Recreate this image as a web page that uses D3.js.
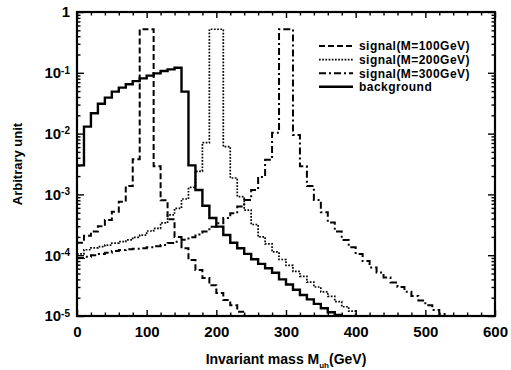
<!DOCTYPE html>
<html>
<head>
<meta charset="utf-8">
<script src="https://cdn.jsdelivr.net/npm/d3@7"></script>
<style>
    body { margin: 0; background: #fff; }
    svg { font-family: "Liberation Sans", Arial, sans-serif; font-weight: bold; }
</style>
</head>
<body>
<svg id="chart" width="511" height="370"></svg>
<script>
// histogram bins are 10 GeV wide, starting at 0
var binWidth = 10;

var background = [0.003, 0.013, 0.0216, 0.031, 0.039, 0.049, 0.057, 0.065, 0.073, 0.081,
    0.090, 0.098, 0.107, 0.114, 0.121, 0.049, 0.003, 0.00118, 0.00065, 0.00041,
    2.95e-4, 2.15e-4, 1.6e-4, 1.3e-4, 1.05e-4, 8.6e-5, 7.2e-5, 6.1e-5, 5.15e-5, 4.0e-5,
    3.3e-5, 2.7e-5, 2.22e-5, 1.88e-5, 1.58e-5, 1.34e-5, 1.15e-5, 1.04e-5];

var signal100 = [1.6e-4, 2.08e-4, 2.45e-4, 3.0e-4, 3.8e-4, 5.2e-4, 7.6e-4, 1.37e-3, 3.8e-3, 0.52,
    0.52, 2.9e-3, 8.0e-4, 3.9e-4, 2.0e-4, 1.3e-4, 8.3e-5, 5.7e-5, 4.2e-5, 3.2e-5,
    2.4e-5, 1.83e-5, 1.5e-5, 1.18e-5];

var signal200 = [1.05e-4, 1.23e-4, 1.32e-4, 1.38e-4, 1.47e-4, 1.58e-4, 1.67e-4, 1.78e-4, 1.97e-4, 2.14e-4,
    2.5e-4, 2.76e-4, 3.4e-4, 4.6e-4, 5.9e-4, 8.4e-4, 1.3e-3, 2.4e-3, 7.1e-3, 0.52,
    0.52, 6.1e-3, 1.86e-3, 9.2e-4, 5.5e-4, 3.2e-4, 2.0e-4, 1.53e-4, 1.13e-4, 8.5e-5,
    6.8e-5, 5.4e-5, 4.5e-5, 3.6e-5, 3.0e-5, 2.5e-5, 2.1e-5, 1.72e-5, 1.42e-5, 1.2e-5];

var signal300 = [9.0e-5, 9.4e-5, 1.0e-4, 1.05e-4, 1.1e-4, 1.17e-4, 1.22e-4, 1.25e-4, 1.28e-4, 1.3e-4,
    1.35e-4, 1.41e-4, 1.47e-4, 1.58e-4, 1.67e-4, 1.8e-4, 1.97e-4, 2.2e-4, 2.45e-4, 2.95e-4,
    3.35e-4, 4.1e-4, 4.9e-4, 6.3e-4, 8.1e-4, 1.18e-3, 1.94e-3, 3.7e-3, 0.0103, 0.52,
    0.52, 9.5e-3, 2.9e-3, 1.37e-3, 8.1e-4, 5.1e-4, 3.45e-4, 2.45e-4, 1.78e-4, 1.35e-4,
    1.05e-4, 8.0e-5, 6.3e-5, 5.2e-5, 4.3e-5, 3.55e-5, 3.0e-5, 2.5e-5, 2.14e-5, 1.8e-5,
    1.5e-5, 1.26e-5, 1.08e-5];

var seriesNames = ["signal(M=100GeV)", "signal(M=200GeV)", "signal(M=300GeV)", "background"];
var xTicks = [0, 100, 200, 300, 400, 500, 600];
var yDecades = [1, 1e-1, 1e-2, 1e-3, 1e-4, 1e-5];

var svg = d3.select("#chart");
var margin = {top: 12, right: 16, bottom: 54, left: 77};
var width = 511 - margin.left - margin.right;
var height = 370 - margin.top - margin.bottom;

var g = svg.append("g")
    .attr("transform", "translate(" + margin.left + "," + margin.top + ")");

var x = d3.scaleLinear().domain([0, 600]).range([0, width]);
var y = d3.scaleLog().domain([1e-5, 1]).range([height, 0]).clamp(true);

// minor tick values
var xMinor = d3.range(0, 601, 20).filter(function(d) { return d % 100 != 0; });
var yMinor = [];
yDecades.slice(1).forEach(function(d) {
    for (var k = 2; k <= 9; k++) yMinor.push(d * k);
});

// styles per series, same order as seriesNames
var styles = [
    {dash: "6,3", w: 2},
    {dash: "1.7,1.5", w: 1.7},
    {dash: "7,3,2,3", w: 2},
    {dash: null, w: 2.4}
];
var allSeries = [signal100, signal200, signal300, background];

function stepPoints(values) {
    var pts = values.map(function(v, i) { return [i * binWidth, v]; });
    var last = values.length * binWidth;
    pts.push([last, values[values.length - 1]]);
    pts.push([last, 1e-5]);
    return pts;
}

var line = d3.line()
    .x(function(d) { return x(d[0]); })
    .y(function(d) { return y(d[1]); })
    .curve(d3.curveStepAfter);

g.append("defs").append("clipPath").attr("id", "clip")
    .append("rect").attr("width", width).attr("height", height);

var plot = g.append("g").attr("clip-path", "url(#clip)");

allSeries.forEach(function(s, i) {
    plot.append("path")
        .datum(stepPoints(s))
        .attr("d", line)
        .attr("fill", "none")
        .attr("stroke", "#000")
        .attr("stroke-width", styles[i].w)
        .attr("stroke-dasharray", styles[i].dash)
        .attr("stroke-linejoin", "miter");
});

// axes, ticks pointing inward
function styleAxis(sel) {
    sel.selectAll(".tick line").attr("stroke", "#000").attr("stroke-width", 1.4);
    sel.select(".domain").remove();
}

var xAxis = g.append("g").attr("transform", "translate(0," + height + ")")
    .call(d3.axisBottom(x).tickValues(xTicks).tickSize(-6).tickPadding(10).tickFormat(d3.format("d")));
xAxis.selectAll("text").attr("font-size", 15).attr("font-weight", "bold").attr("font-family", null);
styleAxis(xAxis);

g.append("g").attr("transform", "translate(0," + height + ")")
    .call(d3.axisBottom(x).tickValues(xMinor).tickSize(-3.5).tickFormat(""))
    .call(styleAxis);

g.append("g")
    .call(d3.axisTop(x).tickValues(xTicks).tickSize(-6).tickFormat(""))
    .call(styleAxis);
g.append("g")
    .call(d3.axisTop(x).tickValues(xMinor).tickSize(-3.5).tickFormat(""))
    .call(styleAxis);

var yAxis = g.append("g")
    .call(d3.axisLeft(y).tickValues(yDecades).tickSize(-7).tickPadding(7).tickFormat(""));
styleAxis(yAxis);
yAxis.selectAll(".tick text")
    .attr("font-size", 15)
    .attr("font-weight", "bold")
    .attr("font-family", null)
    .each(function(d) {
        var t = d3.select(this);
        if (d == 1) {
            t.text("1");
        } else {
            t.append("tspan").text("10");
            t.append("tspan").attr("font-size", 10).attr("dy", "-0.45em")
                .text(String(Math.round(Math.log10(d))));
        }
    });

g.append("g")
    .call(d3.axisLeft(y).tickValues(yMinor).tickSize(-3.5).tickFormat(""))
    .call(styleAxis);
g.append("g").attr("transform", "translate(" + width + ",0)")
    .call(d3.axisRight(y).tickValues(yDecades).tickSize(-7).tickFormat(""))
    .call(styleAxis);
g.append("g").attr("transform", "translate(" + width + ",0)")
    .call(d3.axisRight(y).tickValues(yMinor).tickSize(-3.5).tickFormat(""))
    .call(styleAxis);

// frame
g.append("rect")
    .attr("width", width)
    .attr("height", height)
    .attr("fill", "none")
    .attr("stroke", "#000")
    .attr("stroke-width", 2.2);

// axis titles
var xTitle = svg.append("text")
    .attr("x", margin.left + width / 2)
    .attr("y", 364)
    .attr("text-anchor", "middle")
    .attr("font-size", 14);
xTitle.append("tspan").text("Invariant mass M");
xTitle.append("tspan").attr("font-size", 8).attr("dy", 4).text("uh");
xTitle.append("tspan").attr("dy", -4).text("(GeV)");

svg.append("text")
    .attr("transform", "translate(22," + (margin.top + height / 2) + ") rotate(-90)")
    .attr("text-anchor", "middle")
    .attr("font-size", 13)
    .text("Arbitrary unit");

// legend
var legend = svg.append("g").attr("transform", "translate(319,46)");
seriesNames.forEach(function(name, i) {
    var row = legend.append("g").attr("transform", "translate(0," + (i * 13.6) + ")");
    row.append("line")
        .attr("x1", 0).attr("x2", 34)
        .attr("stroke", "#000")
        .attr("stroke-width", styles[i].w)
        .attr("stroke-dasharray", styles[i].dash);
    row.append("text")
        .attr("x", 40)
        .attr("y", 4.3)
        .attr("font-size", 12)
        .attr("letter-spacing", 0.45)
        .text(name);
});
</script>
</body>
</html>
